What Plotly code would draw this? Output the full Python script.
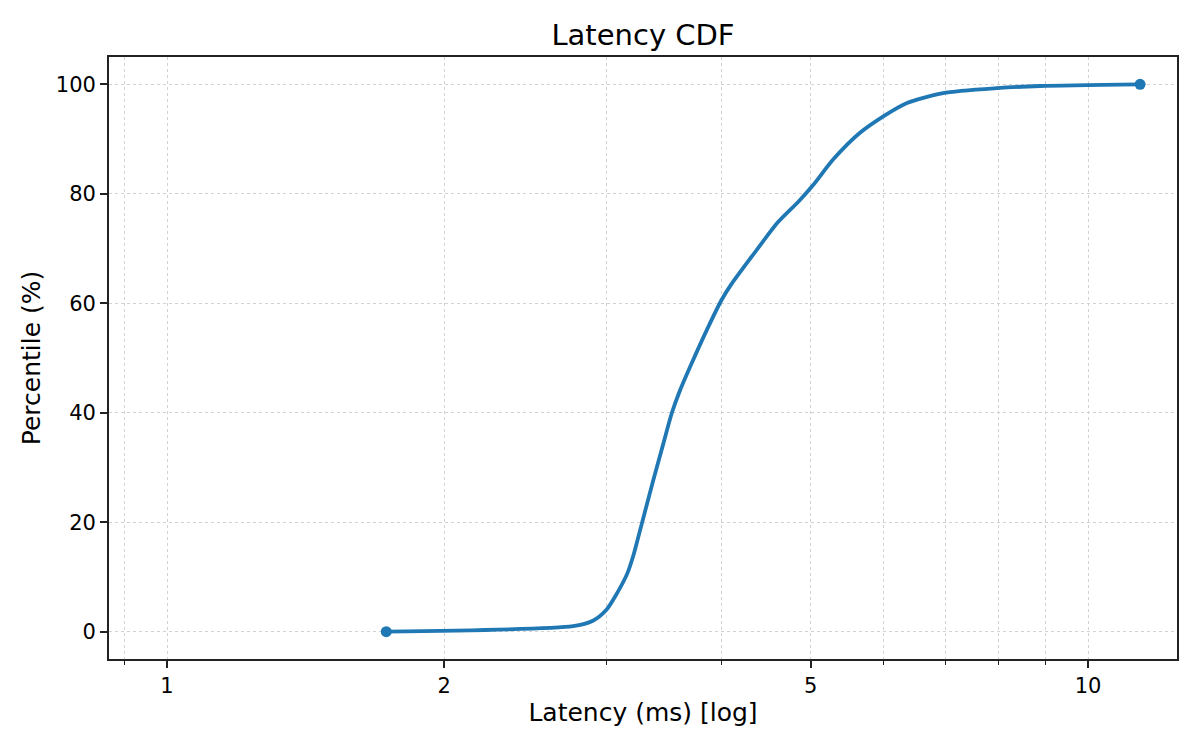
import plotly.graph_objects as go

# latency percentiles
latency_ms = [1.73, 2.76, 2.90, 3.00, 3.08, 3.16, 3.21, 3.257, 3.373, 3.459,
              3.532, 3.606, 3.698, 3.855, 4.00, 4.10, 4.37, 4.60, 4.85, 5.03,
              5.29, 5.65, 6.00, 6.36, 6.96, 7.96, 8.87, 11.39]
percentile = [0, 1, 2, 4, 7, 10.6, 14.0, 18.0, 27.7, 34.4,
              39.9, 44.1, 48.4, 55.1, 60.6, 63.5, 69.8, 74.7, 78.6, 81.6,
              86.3, 91.1, 94.2, 96.6, 98.4, 99.3, 99.7, 100]

x_major = [1, 2, 5, 10]
x_minor = [0.9, 3, 4, 6, 7, 8, 9]
y_ticks = [0, 20, 40, 60, 80, 100]

BLUE = "#1f77b4"
FONT = "DejaVu Sans"
GRID = "#d2d2d2"
AXIS = "#222222"

# the page body has an 8px margin, so the figure is shrunk by that much
W, H = 1192, 742

fig = go.Figure()

fig.add_trace(
    go.Scatter(
        x=latency_ms,
        y=percentile,
        mode="lines",
        line=dict(color=BLUE, width=3.8, shape="spline", smoothing=0.7),
        showlegend=False,
    )
)

# end markers
fig.add_trace(
    go.Scatter(
        x=[latency_ms[0], latency_ms[-1]],
        y=[percentile[0], percentile[-1]],
        mode="markers",
        marker=dict(color=BLUE, size=11),
        showlegend=False,
    )
)

fig.update_layout(
    width=W,
    height=H,
    margin=dict(l=101, r=23, t=49, b=91),
    paper_bgcolor="white",
    plot_bgcolor="white",
    font=dict(family=FONT, color="black"),
    title=dict(
        text="Latency CDF",
        x=(101 + W - 23) / 2 / W,
        xanchor="center",
        y=1 - 27 / H,
        yref="container",
        yanchor="middle",
        font=dict(size=29, color="black"),
    ),
)

fig.update_xaxes(
    type="log",
    range=[-0.063, 1.0966],
    tickmode="array",
    tickvals=x_major,
    ticktext=[str(v) for v in x_major],
    ticks="outside",
    ticklen=7,
    tickwidth=1.7,
    tickcolor=AXIS,
    tickfont=dict(size=21),
    showline=True,
    linecolor=AXIS,
    linewidth=1.7,
    mirror=True,
    showgrid=True,
    gridcolor=GRID,
    gridwidth=1,
    griddash="dot",
    zeroline=False,
    minor=dict(
        tickmode="array",
        tickvals=x_minor,
        ticks="outside",
        ticklen=4,
        tickwidth=1.3,
        tickcolor=AXIS,
        showgrid=True,
        gridcolor=GRID,
        gridwidth=1,
        griddash="dot",
    ),
    title=dict(text="Latency (ms) [log]", font=dict(size=25), standoff=6),
)

fig.update_yaxes(
    range=[-5, 105],
    tickmode="array",
    tickvals=y_ticks,
    ticks="outside",
    ticklen=7,
    tickwidth=1.7,
    tickcolor=AXIS,
    tickfont=dict(size=21),
    showline=True,
    linecolor=AXIS,
    linewidth=1.7,
    mirror=True,
    showgrid=True,
    gridcolor=GRID,
    gridwidth=1,
    griddash="dot",
    zeroline=False,
    title=dict(text="Percentile (%)", font=dict(size=25), standoff=8),
)

fig.write_html("out.html")
